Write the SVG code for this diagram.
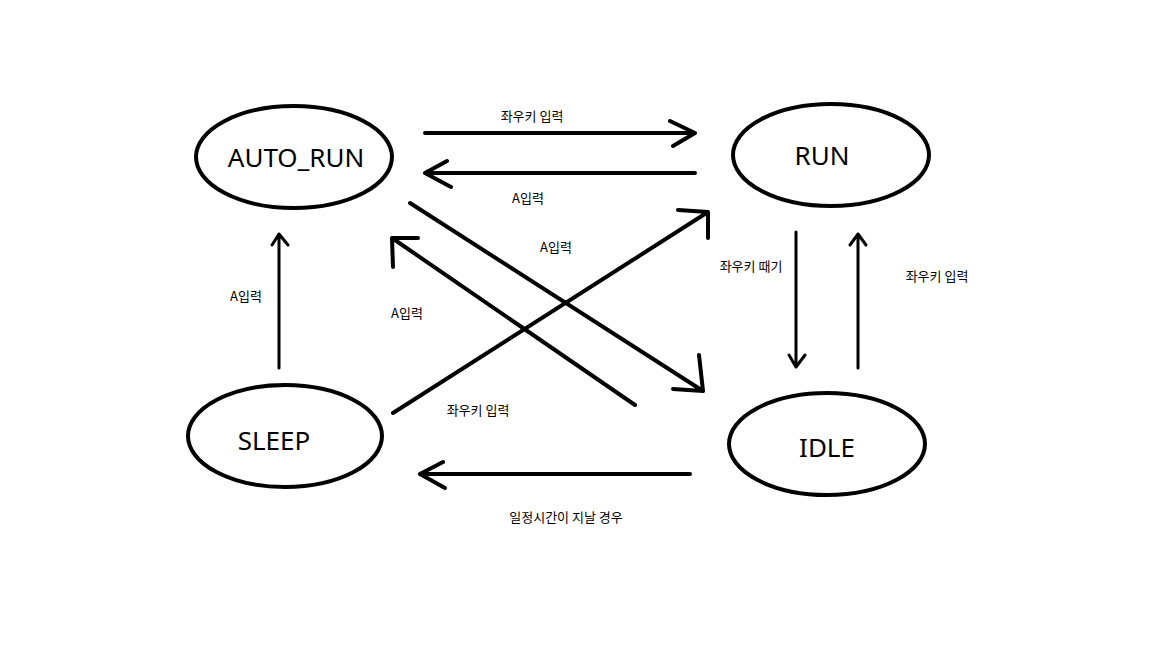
<svg xmlns="http://www.w3.org/2000/svg" width="1152" height="648" viewBox="0 0 1152 648">
<style>
.node{fill:none;stroke:#000;stroke-width:4}
.name{font-family:"Noto Sans","Noto Sans CJK KR",sans-serif;font-size:26px;fill:#000;text-anchor:middle}
.lbl{font-family:"Noto Sans CJK KR","Noto Sans",sans-serif;font-size:13px;fill:#000;text-anchor:middle}
.w{fill:none;stroke:#000;stroke-width:4;stroke-linecap:round;stroke-linejoin:round}
.t{fill:none;stroke:#000;stroke-width:3;stroke-linecap:round;stroke-linejoin:round}
</style>
<rect width="1152" height="648" fill="#fff"/>
<g id="AUTO_RUN"><ellipse class="node" cx="294" cy="157" rx="98" ry="51"/><text class="name" x="296" y="167">AUTO_RUN</text></g>
<g id="RUN"><ellipse class="node" cx="831" cy="155" rx="98" ry="51"/><text class="name" x="822" y="165">RUN</text></g>
<g id="IDLE"><ellipse class="node" cx="827" cy="444" rx="98" ry="51"/><text class="name" x="827" y="457">IDLE</text></g>
<g id="SLEEP"><ellipse class="node" cx="285" cy="436" rx="97" ry="51"/><text class="name" x="274" y="450">SLEEP</text></g>
<g id="connectors">
<path class="w" d="M425,133 L695,133 M670,121 L695,133 L673,146"/>
<path class="w" d="M695,173 L425,173 M447,161 L425,173 L451,187"/>
<path class="w" d="M410,203 L703,391 M673,389 L703,391 L699,355"/>
<path class="w" d="M635,405 L392,238 M418,238 L392,238 L393,267"/>
<path class="w" d="M393,413 L708,212 M678,210 L708,212 L708,238"/>
<path class="t" d="M796,232 L796,367 M789,355 L796,367 L805,355"/>
<path class="t" d="M858,368 L858,234 M850,245 L858,234 L866,245"/>
<path class="t" d="M279,368 L279,234 M272,245 L279,234 L288,245"/>
<path class="w" d="M690,474 L420,474 M443,462 L420,474 L445,488"/>
<text class="lbl" x="532" y="121">좌우키 입력</text>
<text class="lbl" x="528" y="203">A입력</text>
<text class="lbl" x="556" y="252">A입력</text>
<text class="lbl" x="407" y="318">A입력</text>
<text class="lbl" x="478" y="415">좌우키 입력</text>
<text class="lbl" x="751" y="271">좌우키 때기</text>
<text class="lbl" x="937" y="281">좌우키 입력</text>
<text class="lbl" x="246" y="301">A입력</text>
<text class="lbl" x="566" y="522">일정시간이 지날 경우</text>
</g>
</svg>
